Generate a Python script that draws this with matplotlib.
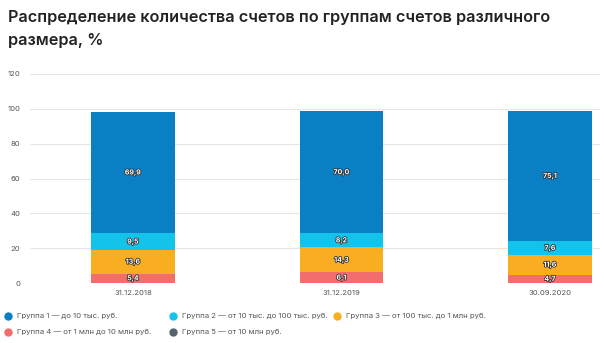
import matplotlib
matplotlib.use("Agg")
import matplotlib.pyplot as plt
import matplotlib.patheffects as pe
from matplotlib.lines import Line2D

dates = ["31.12.2018", "31.12.2019", "30.09.2020"]
group1 = [69.9, 70.0, 75.1]
group2 = [9.5, 8.2, 7.6]
group3 = [13.6, 14.3, 11.6]
group4 = [5.4, 6.1, 4.7]
group5 = [0.0, 0.0, 0.0]

series_names = [
    "Группа 1 — до 10 тыс. руб.",
    "Группа 2 — от 10 тыс. до 100 тыс. руб.",
    "Группа 3 — от 100 тыс. до 1 млн руб.",
    "Группа 4 — от 1 млн до 10 млн руб.",
    "Группа 5 — от 10 млн руб.",
]
colors = ["#0a7fc4", "#14c3e9", "#f9ae22", "#f26d6d", "#59636e"]

plt.rcParams["font.family"] = ["Inter", "DejaVu Sans"]

fig = plt.figure(figsize=(6.04, 3.43), dpi=100)
ax = fig.add_axes([30 / 604, 1 - 283 / 343, 570 / 604, 209 / 343])

x = list(range(len(dates)))
stack_order = [(group4, 3), (group3, 2), (group2, 1), (group1, 0), (group5, 4)]
bottom = [0.0] * len(dates)
for vals, ci in stack_order:
    ax.bar(x, vals, bottom=bottom, width=0.4, color=colors[ci], zorder=2)
    for i, v in enumerate(vals):
        if v > 0:
            ax.text(x[i], bottom[i] + v / 2, f"{v:.1f}".replace(".", ","),
                    ha="center", va="center", fontsize=5, color="white",
                    fontweight="bold", zorder=3,
                    path_effects=[pe.withStroke(linewidth=1.2, foreground="#333333")])
    bottom = [b + v for b, v in zip(bottom, vals)]

ax.set_ylim(0, 120)
ax.set_yticks(range(0, 121, 20))
ax.set_xlim(-0.494, 2.24)
ax.set_xticks(x)
ax.set_xticklabels(dates)
ax.tick_params(axis="both", length=0, labelsize=5.5, labelcolor="#555555")
ax.tick_params(axis="y", pad=7)
ax.tick_params(axis="x", pad=5)
ax.grid(axis="y", color="#e6e6e6", linewidth=0.8, zorder=0)
for s in ax.spines.values():
    s.set_visible(False)

fig.text(8 / 604, 1 - 22 / 343, "Распределение количества счетов по группам счетов различного",
         fontsize=11.7, fontweight="semibold", color="#222222", va="baseline")
fig.text(8 / 604, 1 - 45 / 343, "размера, %",
         fontsize=11.7, fontweight="semibold", color="#222222", va="baseline")

# legend: (marker x, row y) in pixels
legend_pos = [(8, 316), (173, 316), (337, 316), (8, 332), (173, 332)]
for (lx, ly), name, col in zip(legend_pos, series_names, colors):
    fig.add_artist(Line2D([lx / 604], [1 - ly / 343], marker="o", markersize=5,
                          color=col, linestyle="none", transform=fig.transFigure))
    fig.text((lx + 9) / 604, 1 - ly / 343, name, fontsize=5.6, color="#555555",
             va="center")

fig.savefig("out.png", dpi=100)
